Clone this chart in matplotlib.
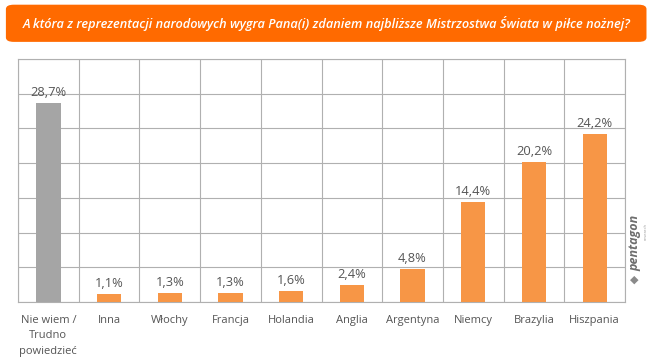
import matplotlib
matplotlib.use("Agg")
import matplotlib.pyplot as plt
from matplotlib.patches import FancyBboxPatch
import numpy as np

plt.rcParams['font.family'] = ['Open Sans', 'DejaVu Sans']

# ---------------- data ----------------
categories = ["Nie wiem /\nTrudno\npowiedzieć", "Inna", "Włochy", "Francja", "Holandia",
              "Anglia", "Argentyna", "Niemcy", "Brazylia", "Hiszpania"]
values = [28.7, 1.1, 1.3, 1.3, 1.6, 2.4, 4.8, 14.4, 20.2, 24.2]
value_labels = ["28,7%", "1,1%", "1,3%", "1,3%", "1,6%", "2,4%", "4,8%", "14,4%", "20,2%", "24,2%"]
title = "A która z reprezentacji narodowych wygra Pana(i) zdaniem najbliższe Mistrzostwa Świata w piłce nożnej?"

orange = "#F79646"
grey_bar = "#A5A5A5"
grid_col = "#B0B0B0"
text_col = "#555555"

fig = plt.figure(figsize=(6.55, 3.61), dpi=100)

# title box
box = FancyBboxPatch((0.009, 0.884), 0.978, 0.103, boxstyle="round,pad=0,rounding_size=0.012",
                     transform=fig.transFigure, facecolor="#FF6A00", edgecolor="none")
fig.patches.append(box)
fig.text(0.498, 0.935, title, ha="center", va="center", color="white",
         fontsize=9.2, fontstyle="italic", fontweight="semibold")

ax = fig.add_axes([0.0275, 0.1634, 0.9267, 0.6732])
x = np.arange(len(categories))
colors = [grey_bar] + [orange] * (len(categories) - 1)
ax.bar(x, values, width=0.4, color=colors, zorder=3)

for xi, v, lab in zip(x, values, value_labels):
    ax.annotate(lab, (xi, v), xytext=(0, 3), textcoords="offset points",
                ha="center", va="bottom", fontsize=9.3, color=text_col)

ax.set_xlim(-0.5, len(categories) - 0.5)
ax.set_ylim(0, 35)
ax.set_yticks(np.arange(0, 36, 5))
ax.set_xticks(np.arange(-0.5, len(categories), 1), minor=True)
ax.set_xticks(x)
ax.set_xticklabels(categories, fontsize=8, color=text_col, linespacing=1.6)
ax.tick_params(axis="x", which="both", length=0, pad=9)
ax.tick_params(axis="y", length=0, labelleft=False)
ax.grid(axis="y", color=grid_col, linewidth=0.8, zorder=0)
ax.grid(axis="x", which="minor", color=grid_col, linewidth=0.8, zorder=0)
for s in ax.spines.values():
    s.set_color(grid_col)
    s.set_linewidth(0.8)

# logo text
fig.text(0.969, 0.327, "pentagon", rotation=90, ha="center", va="center",
         fontsize=9, fontstyle="italic", fontweight="bold", color="#6E6E6E")
fig.text(0.985, 0.36, "research", rotation=90, ha="center", va="center",
         fontsize=3, color="#9A9A9A")
fig.text(0.969, 0.225, "\u25C6", ha="center", va="center", fontsize=8, color="#8A8A8A")

fig.savefig("out.png", dpi=100)
